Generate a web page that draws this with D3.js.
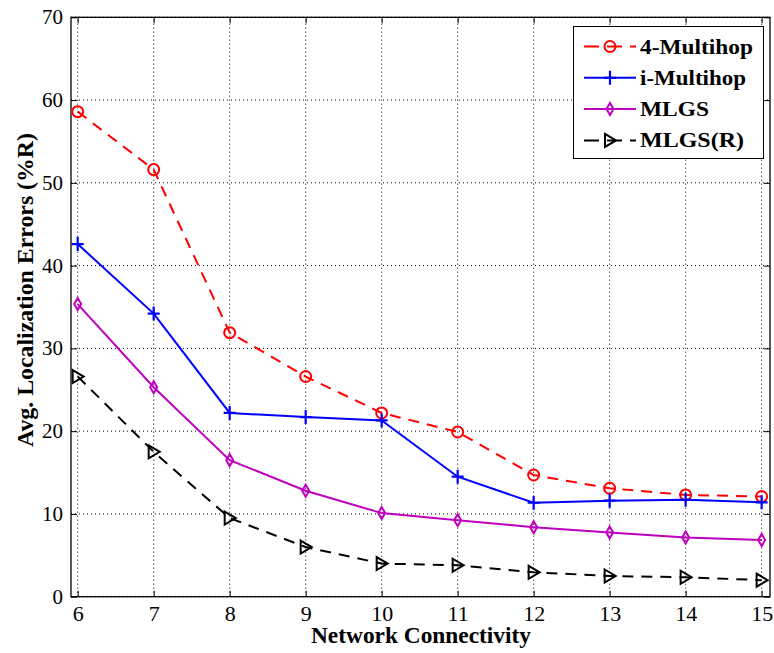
<!DOCTYPE html>
<html><head><meta charset="utf-8">
<script src="https://cdn.jsdelivr.net/npm/d3@7"></script>
<style>body{margin:0;background:#fff}svg{display:block}</style>
</head><body>
<script>
const connectivity = [6,7,8,9,10,11,12,13,14,15];
const multihop4 = [58.6,51.6,31.9,26.6,22.2,19.9,14.7,13.1,12.3,12.1];
const iMultihop = [42.6,34.2,22.2,21.7,21.3,14.5,11.35,11.6,11.7,11.4];
const mlgs = [35.35,25.3,16.5,12.8,10.1,9.25,8.4,7.75,7.15,6.85];
const mlgsR = [26.6,17.5,9.5,6.0,4.0,3.8,2.95,2.5,2.35,2.0];
const seriesNames = ["4-Multihop","i-Multihop","MLGS","MLGS(R)"];
const xTicks = [6,7,8,9,10,11,12,13,14,15];
const yTicks = [0,10,20,30,40,50,60,70];

const W=774,H=653;
const svg=d3.select("body").append("svg").attr("width",W).attr("height",H);
const x=d3.scaleLinear().domain([5.912,15.11]).range([71,770]);
const y=d3.scaleLinear().domain([0,70]).range([596.7,17.3]);
const font="'Liberation Serif','Times New Roman',serif";

function stretch(sel,f){sel.each(function(){const w=this.getComputedTextLength();
 d3.select(this).attr("textLength",w*f).attr("lengthAdjust","spacingAndGlyphs");});}

// grid
const g=svg.append("g");
g.selectAll(".gx").data(xTicks).join("line").attr("x1",d=>x(d)).attr("x2",d=>x(d))
 .attr("y1",y(0)).attr("y2",y(70)).attr("stroke","#000").attr("stroke-width",1).attr("stroke-dasharray","1,3");
g.selectAll(".gy").data(yTicks).join("line").attr("x1",x.range()[0]).attr("x2",x.range()[1])
 .attr("y1",d=>y(d)).attr("y2",d=>y(d)).attr("stroke","#000").attr("stroke-width",1).attr("stroke-dasharray","1,3");

// axes
const ax=d3.axisBottom(x).tickValues(xTicks).tickSizeInner(-6).tickSizeOuter(0).tickPadding(10);
const axT=d3.axisTop(x).tickValues(xTicks).tickSizeInner(-6).tickSizeOuter(0).tickFormat("");
const ay=d3.axisLeft(y).tickValues(yTicks).tickSizeInner(-6).tickSizeOuter(0).tickPadding(8);
const ayR=d3.axisRight(y).tickValues(yTicks).tickSizeInner(-6).tickSizeOuter(0).tickFormat("");
function style(sel){sel.selectAll("path").remove();sel.selectAll("line").attr("stroke","#000");
 sel.selectAll("text").attr("font-family",font).attr("font-size",20).attr("fill","#000");}
svg.append("g").attr("transform",`translate(0,${y(0)})`).call(ax).call(style).selectAll("text").call(stretch,1.1);
svg.append("g").attr("transform",`translate(0,${y(70)})`).call(axT).call(style);
svg.append("g").attr("transform",`translate(${x.range()[0]},0)`).call(ay).call(style).selectAll("text").call(stretch,1.05);
svg.append("g").attr("transform",`translate(${x.range()[1]},0)`).call(ayR).call(style);
svg.append("rect").attr("x",x.range()[0]).attr("y",y(70)).attr("width",x.range()[1]-x.range()[0])
 .attr("height",y(0)-y(70)).attr("fill","none").attr("stroke","#000").attr("stroke-width",1.3);

const sets=[
 {name:seriesNames[0],vals:multihop4,color:"#ff0000",dash:"11,8",mk:"circle"},
 {name:seriesNames[1],vals:iMultihop,color:"#0000ff",dash:null,mk:"plus"},
 {name:seriesNames[2],vals:mlgs,color:"#bf00bf",dash:null,mk:"diamond"},
 {name:seriesNames[3],vals:mlgsR,color:"#000000",dash:"11,8",mk:"tri"}
];
const legendW=[113,106,69,104];
function marker(sel,mk,color){
 if(mk==="circle") sel.append("circle").attr("r",5.5).attr("fill","none").attr("stroke",color).attr("stroke-width",2);
 else if(mk==="plus") sel.append("path").attr("d","M-6,0H6M0,-7V7").attr("stroke",color).attr("stroke-width",2.2).attr("fill","none");
 else if(mk==="diamond") sel.append("path").attr("d","M0,-6L3.5,0L0,6L-3.5,0Z").attr("stroke",color).attr("stroke-width",2).attr("fill","none");
 else sel.append("path").attr("d","M-5,-6.5L6,0L-5,6.5Z").attr("stroke",color).attr("stroke-width",2).attr("fill","none");
}
const line=d3.line().x((d,i)=>x(connectivity[i])).y(d=>y(d));
sets.forEach(s=>{
 svg.append("path").datum(s.vals).attr("d",line).attr("fill","none").attr("stroke",s.color)
  .attr("stroke-width",2).attr("stroke-dasharray",s.dash);
 s.vals.forEach((v,i)=>{const gm=svg.append("g").attr("transform",`translate(${x(connectivity[i])},${y(v)})`);marker(gm,s.mk,s.color);});
});

// legend
const lg=svg.append("g");
lg.append("rect").attr("x",573.5).attr("y",26.5).attr("width",190).attr("height",132).attr("fill","#fff").attr("stroke","#000").attr("stroke-width",1);
sets.forEach((s,i)=>{
 const yy=46.5+i*31.3;
 lg.append("line").attr("x1",584).attr("x2",636).attr("y1",yy).attr("y2",yy).attr("stroke",s.color).attr("stroke-width",2)
  .attr("stroke-dasharray",s.dash?"15,8":null);
 const gm=lg.append("g").attr("transform",`translate(610,${yy})`);marker(gm,s.mk,s.color);
 lg.append("text").attr("x",640).attr("y",yy+7).text(s.name).attr("font-family",font).attr("font-weight","bold").attr("font-size",21).attr("fill","#000")
  .attr("textLength",legendW[i]).attr("lengthAdjust","spacingAndGlyphs");
});

svg.append("text").attr("x",421).attr("y",643).attr("text-anchor","middle").text("Network Connectivity")
 .attr("font-family",font).attr("font-weight","bold").attr("font-size",23)
 .attr("textLength",220).attr("lengthAdjust","spacingAndGlyphs");
svg.append("text").attr("transform","translate(33,290) rotate(-90)").attr("text-anchor","middle").text("Avg. Localization Errors (%R)")
 .attr("font-family",font).attr("font-weight","bold").attr("font-size",24)
 .attr("textLength",314).attr("lengthAdjust","spacingAndGlyphs");
</script>
</body></html>
